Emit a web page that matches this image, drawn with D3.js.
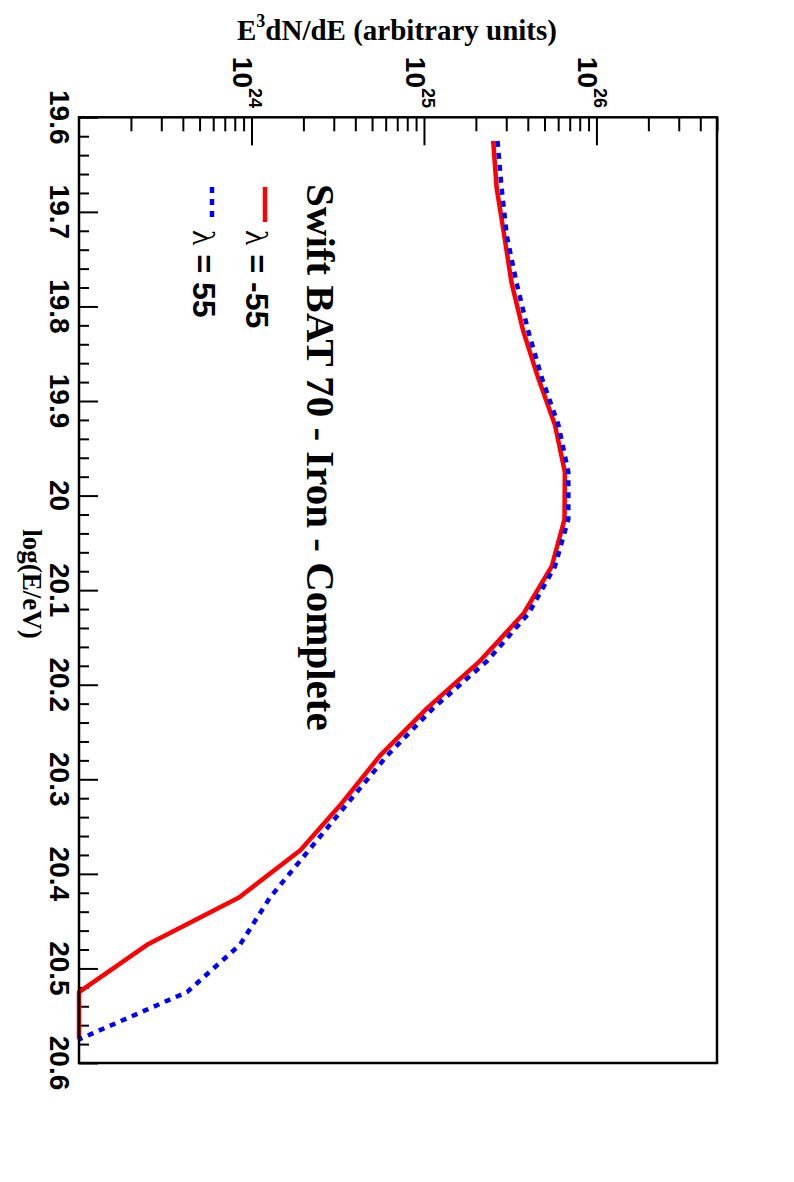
<!DOCTYPE html>
<html>
<head>
<meta charset="utf-8">
<script src="https://cdn.jsdelivr.net/npm/d3@7"></script>
<style>
  body { margin: 0; background: #fff; }
  svg { display: block; }
  .tick line { stroke: #000; stroke-width: 2; }
  .domain { display: none; }
</style>
</head>
<body>
<div id="chart"></div>
<script>
// bin centres of log(E/eV)
const logE = [19.625, 19.675, 19.725, 19.775, 19.825, 19.875, 19.925, 19.975, 20.025, 20.075,
              20.125, 20.175, 20.225, 20.275, 20.325, 20.375, 20.425, 20.475, 20.525, 20.575];

// E^3 dN/dE, lambda = -55 (red, solid)
const fluxNeg = [2.52e25, 2.64e25, 2.92e25, 3.22e25, 3.75e25, 4.58e25, 5.74e25, 6.56e25, 6.53e25, 5.50e25,
                 3.77e25, 2.11e25, 1.04e25, 5.56e24, 3.35e24, 1.92e24, 8.47e23, 2.48e23, 1e23, 1e23];

// E^3 dN/dE, lambda = 55 (blue, dotted)
const fluxPos = [2.67e25, 2.82e25, 3.02e25, 3.44e25, 4.01e25, 4.81e25, 6.01e25, 6.87e25, 6.87e25, 5.74e25,
                 4.03e25, 2.32e25, 1.13e25, 6.11e24, 3.62e24, 2.15e24, 1.28e24, 8.57e23, 4.23e23, 1e23];

const energyTicks = [19.6, 19.7, 19.8, 19.9, 20.0, 20.1, 20.2, 20.3, 20.4, 20.5, 20.6];
const energyTickLabels = ["19.6", "19.7", "19.8", "19.9", "20", "20.1", "20.2", "20.3", "20.4", "20.5", "20.6"];
const fluxDecades = [1e24, 1e25, 1e26];
const fluxExponents = ["24", "25", "26"];

const W = 794, H = 1182;
const frame = { left: 79, right: 717, top: 117.3, bottom: 1063 };

const svg = d3.select('#chart').append('svg')
    .attr('width', W)
    .attr('height', H);

// energy runs down the page, flux runs across
const x = d3.scaleLinear().domain([19.6, 20.6]).range([frame.top, frame.bottom]);
const y = d3.scaleLog().domain([1e23, 5e26]).range([frame.left, frame.right]);

// left axis ticks (pointing into the frame)
const minorE = d3.range(0, 51).filter(i => i % 5 !== 0).map(i => 19.6 + i * 0.02);
svg.append('g')
    .attr('transform', `translate(${frame.left},0)`)
    .call(d3.axisRight(x).tickValues(energyTicks).tickSize(19).tickFormat(''));
svg.append('g')
    .attr('transform', `translate(${frame.left},0)`)
    .call(d3.axisRight(x).tickValues(minorE).tickSize(10).tickFormat(''));

// top axis ticks
const minorF = [];
[23, 24, 25, 26].forEach(d => {
    for (let k = 2; k <= 9; k++) {
        const v = k * Math.pow(10, d);
        if (v <= 5e26) minorF.push(v);
    }
});
svg.append('g')
    .attr('transform', `translate(0,${frame.top})`)
    .call(d3.axisBottom(y).tickValues(fluxDecades).tickSize(28).tickFormat(''));
svg.append('g')
    .attr('transform', `translate(0,${frame.top})`)
    .call(d3.axisBottom(y).tickValues(minorF).tickSize(14).tickFormat(''));

// left labels, rotated
svg.selectAll('.elabel')
    .data(energyTicks)
    .join('text')
    .attr('class', 'elabel')
    .attr('transform', d => `translate(50,${x(d)}) rotate(90)`)
    .attr('text-anchor', 'middle')
    .style('font-family', 'Liberation Sans, Arial, sans-serif')
    .style('font-weight', 'bold')
    .style('font-size', '28px')
    .text((d, i) => energyTickLabels[i]);

// top labels 10^n, rotated
const flabels = svg.selectAll('.flabel')
    .data(fluxDecades)
    .join('text')
    .attr('class', 'flabel')
    .attr('transform', d => `translate(${y(d) - 18},108) rotate(90)`)
    .attr('text-anchor', 'end')
    .style('font-family', 'Liberation Sans, Arial, sans-serif')
    .style('font-weight', 'bold');
flabels.append('tspan').style('font-size', '28px').text('10');
flabels.append('tspan').style('font-size', '18px').attr('dy', -16).text((d, i) => fluxExponents[i]);

// axis titles
const title = svg.append('text')
    .attr('x', 397)
    .attr('y', 40)
    .attr('text-anchor', 'middle')
    .style('font-family', 'Liberation Serif, Times New Roman, serif')
    .style('font-weight', 'bold')
    .style('font-size', '29px');
title.append('tspan').text('E');
title.append('tspan').style('font-size', '18px').attr('dy', -13).text('3');
title.append('tspan').attr('dy', 13).text('dN/dE (arbitrary units)');

svg.append('text')
    .attr('transform', 'translate(23,584) rotate(90)')
    .attr('text-anchor', 'middle')
    .style('font-family', 'Liberation Serif, Times New Roman, serif')
    .style('font-weight', 'bold')
    .style('font-size', '27px')
    .text('log(E/eV)');

// curves
const line = vals => d3.line()
    .x((d, i) => y(vals[i]))
    .y(d => x(d))(logE);

svg.append('path')
    .attr('d', line(fluxNeg))
    .attr('fill', 'none')
    .attr('stroke', '#ff0000')
    .attr('stroke-width', 4.5)
    .attr('stroke-linejoin', 'round');

svg.append('path')
    .attr('d', line(fluxPos))
    .attr('fill', 'none')
    .attr('stroke', '#0000ff')
    .attr('stroke-width', 4.5)
    .attr('stroke-dasharray', '6,6');

// frame
svg.append('rect')
    .attr('x', frame.left)
    .attr('y', frame.top)
    .attr('width', frame.right - frame.left)
    .attr('height', frame.bottom - frame.top)
    .attr('fill', 'none')
    .attr('stroke', '#000')
    .attr('stroke-width', 2.5);

// legend
svg.append('text')
    .attr('transform', 'translate(307,184) rotate(90)')
    .style('font-family', 'Liberation Serif, Times New Roman, serif')
    .style('font-weight', 'bold')
    .style('font-size', '41px')
    .text('Swift BAT 70 - Iron - Complete');

const legendItems = [
    { label: ' = -55', color: '#ff0000', dash: null, lx: 265, tx: 246 },
    { label: ' = 55', color: '#0000ff', dash: '6,6', lx: 212, tx: 193 }
];
legendItems.forEach(it => {
    svg.append('line')
        .attr('x1', it.lx).attr('x2', it.lx)
        .attr('y1', 187).attr('y2', 222)
        .attr('stroke', it.color)
        .attr('stroke-width', 4.5)
        .attr('stroke-dasharray', it.dash);
    const t = svg.append('text')
        .attr('transform', `translate(${it.tx},230) rotate(90)`)
        .style('font-weight', 'bold')
        .style('font-size', '32px');
    t.append('tspan').style('font-family', 'Liberation Serif, serif').style('font-weight', 'normal').text('λ');
    t.append('tspan').style('font-family', 'Liberation Sans, Arial, sans-serif').text(it.label);
});
</script>
</body>
</html>
